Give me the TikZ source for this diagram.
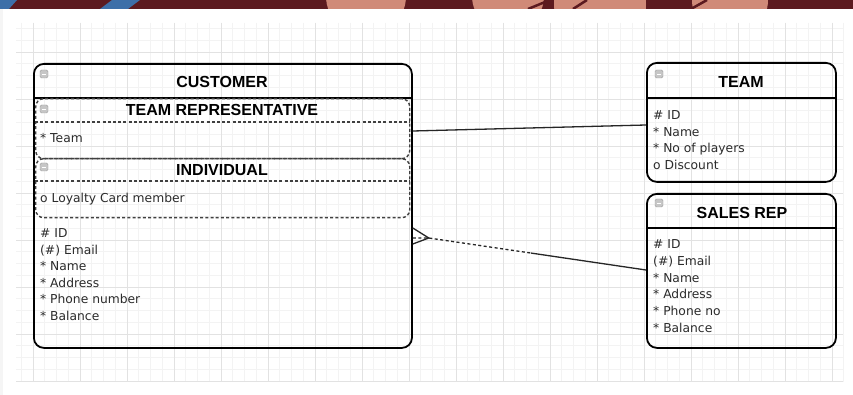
\documentclass[tikz,border=0pt]{standalone}
\usepackage{fontspec}
\setmainfont{Liberation Sans}
\newfontfamily\attrfont{DejaVu Sans}
\usetikzlibrary{positioning,calc}

\definecolor{bandred}{HTML}{5C1A1F}
\definecolor{bandpink}{HTML}{D08A78}
\definecolor{bandblue}{HTML}{3D6FA8}
\definecolor{gridminor}{HTML}{F3F3F3}
\definecolor{gridmajor}{HTML}{E2E2E2}
\definecolor{textgray}{HTML}{2B2B2B}

\tikzset{
  entity/.style={draw=black, line width=1.8pt, rounded corners=10pt, anchor=north west, inner sep=0pt},
  subtype/.style={draw=black!75, line width=1.4pt, dash pattern=on 3pt off 2.2pt, rounded corners=8pt, anchor=north west, inner sep=0pt},
  subline/.style={draw=black!75, line width=1.4pt, dash pattern=on 3pt off 2.2pt},
  headline/.style={draw=black, line width=1.5pt},
  hdr/.style={font=\bfseries\fontsize{16}{18}\selectfont, inner sep=0pt},
  attr/.style={font=\attrfont\fontsize{12.3}{14}\selectfont, text=textgray, anchor=base west, inner sep=0pt},
  icon/.style={draw=gray!75, fill=gray!45, rounded corners=1.5pt, minimum size=8pt, inner sep=0pt,
    path picture={\draw[white, line width=0.9pt] ([xshift=-2.2pt]path picture bounding box.center) -- ([xshift=2.2pt]path picture bounding box.center);}},
  rel/.style={draw=black!85, line width=1.3pt},
  optional/.style={dash pattern=on 3pt off 2.5pt}
}

\begin{document}
\begin{tikzpicture}[x=1pt, y=-1pt]
    \useasboundingbox (0,0) rectangle (853,395);

    % Page and top band
    \fill[white] (0,0) rectangle (853,395);
    \fill[gray!8] (0,9) rectangle (3,395);
    \begin{scope}
        \clip (0,0) rectangle (853,9);
        \fill[bandred] (0,0) rectangle (853,9);
        \fill[bandblue] (0,0) -- (17,0) -- (9,9) -- (0,9) -- cycle;
        \fill[bandblue] (100,9) -- (112,0) -- (140,0) -- (128,9) -- cycle;
        \fill[bandpink] (366,-4) circle (40);
        \fill[bandpink] (508,-4) circle (36);
        \fill[bandpink] (600,4) circle (46);
        \fill[bandpink] (730,0) circle (38);
        \draw[bandred, line width=2.5pt] (528,9) -- (550,0);
        \draw[bandred, line width=2.5pt] (573,9) -- (587,0);
        \draw[bandred, line width=2.5pt] (691,9) -- (707,0);
    \end{scope}

    % Grid
    \foreach \i in {-1,...,69}
        \draw[gridminor, line width=0.6pt] (33+11.75*\i,23) -- (33+11.75*\i,382);
    \foreach \j in {-2,...,28}
        \draw[gridminor, line width=0.6pt] (16,52+11.75*\j) -- (843,52+11.75*\j);
    \foreach \i in {0,...,17}
        \draw[gridmajor, line width=0.7pt] (33+47*\i,23) -- (33+47*\i,382);
    \foreach \j in {0,...,7}
        \draw[gridmajor, line width=0.7pt] (16,52+47*\j) -- (843,52+47*\j);

    % Customer
    \node[entity, minimum width=378pt, minimum height=284pt] (customer) at (33,63) {};
    \draw[headline] (customer.west |- 0,98) -- (customer.east |- 0,98);
    \node[icon] (custicon) at (44,74) {};
    \node[hdr] (custhdr) at (222,82) {CUSTOMER};

    % Subtype: team representative
    \node[subtype, minimum width=374pt, minimum height=60pt] (teamrep) at (35,98) {};
    \draw[subline] (teamrep.west |- 0,122) -- (teamrep.east |- 0,122);
    \node[icon] (repicon) at (44,109) {};
    \node[hdr] (rephdr) at (222,110) {TEAM REPRESENTATIVE};
    \node[attr] (repattr) at (40,142.5) {* Team};

    % Subtype: individual
    \node[subtype, minimum width=374pt, minimum height=59pt] (individual) at (35,158) {};
    \draw[subline] (individual.west |- 0,181) -- (individual.east |- 0,181);
    \node[icon] (indicon) at (44,167) {};
    \node[hdr] (indhdr) at (222,170) {INDIVIDUAL};
    \node[attr] (indattr) at (40,202.5) {o Loyalty Card member};

    % Customer attributes
    \foreach \t [count=\i from 0] in {\# ID, (\#) Email, * Name, * Address, * Phone number, * Balance}
        \node[attr] (custattr\i) at (40,237.5+16.6*\i) {\t};

    % Team
    \node[entity, minimum width=189pt, minimum height=119pt] (team) at (646,62) {};
    \draw[headline] (team.west |- 0,98) -- (team.east |- 0,98);
    \node[icon] (teamicon) at (659,74) {};
    \node[hdr] (teamhdr) at (741,82) {TEAM};
    \foreach \t [count=\i from 0] in {\# ID, * Name, * No of players, o Discount}
        \node[attr] (teamattr\i) at (653,119.5+16.6*\i) {\t};

    % Sales rep
    \node[entity, minimum width=189pt, minimum height=154pt] (salesrep) at (646,193) {};
    \draw[headline] (salesrep.west |- 0,228) -- (salesrep.east |- 0,228);
    \node[icon] (srepicon) at (659,203) {};
    \node[hdr] (srephdr) at (742,213) {SALES REP};
    \foreach \t [count=\i from 0] in {\# ID, (\#) Email, * Name, * Address, * Phone no, * Balance}
        \node[attr] (srepattr\i) at (653,248.5+16.8*\i) {\t};

    % Relationships
    \coordinate (custteam) at (customer.east |- 0,131);
    \coordinate (teamcust) at (team.west |- 0,125);
    \draw[rel] (custteam) -- (teamcust);

    \coordinate (custsrep) at (customer.east |- 0,238);
    \coordinate (srepcust) at (salesrep.west |- 0,270);
    \coordinate (foottip) at ($(custsrep)+(16,0)$);
    \draw[rel] (customer.east |- 0,228) -- (foottip) -- (customer.east |- 0,244);
    \draw[rel, optional] (custsrep) -- (foottip) -- ($(foottip)!0.47!(srepcust)$) coordinate (relmid);
    \draw[rel] (relmid) -- (srepcust);
\end{tikzpicture}
\end{document}
